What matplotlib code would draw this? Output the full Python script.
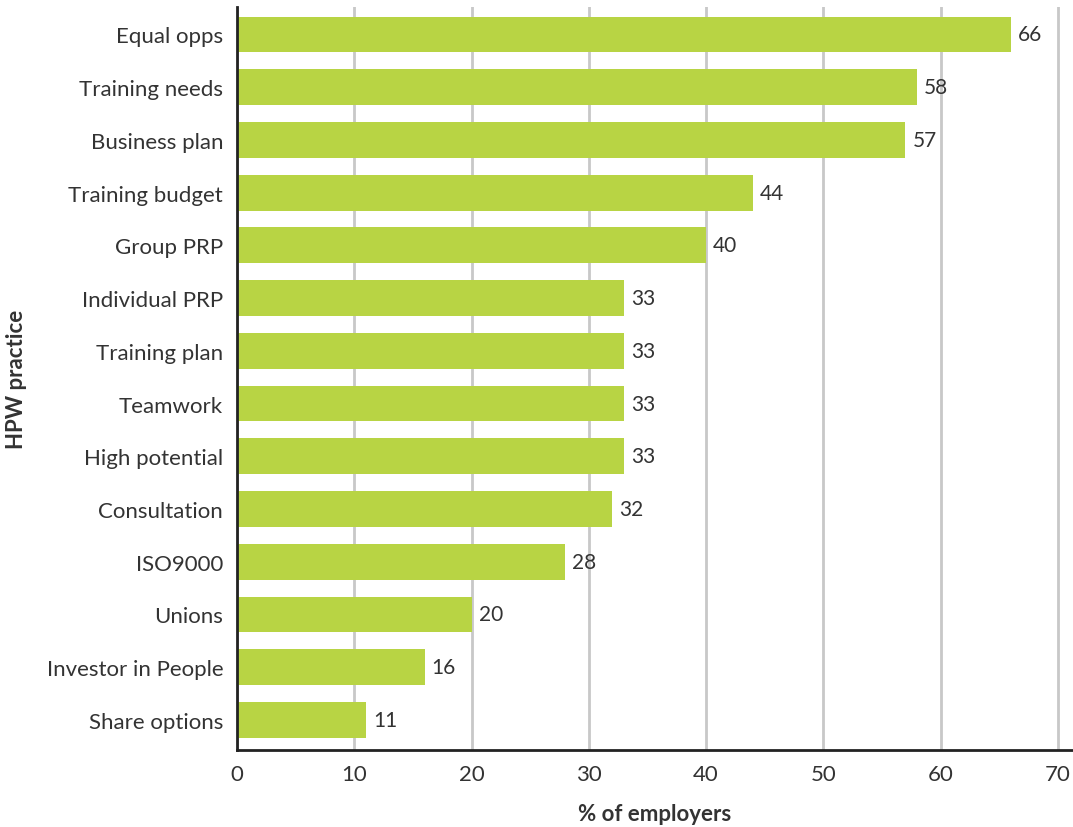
import matplotlib.pyplot as plt

# HPW practices, top to bottom
practices = ['Equal opps', 'Training needs', 'Business plan', 'Training budget',
             'Group PRP', 'Individual PRP', 'Training plan', 'Teamwork',
             'High potential', 'Consultation', 'ISO9000', 'Unions',
             'Investor in People', 'Share options']
employers_pct = [66, 58, 57, 44, 40, 33, 33, 33, 33, 32, 28, 20, 16, 11]
x_ticks = [0, 10, 20, 30, 40, 50, 60, 70]

plt.rcParams['font.family'] = ['Lato', 'DejaVu Sans']
text_col = '#333333'

fig = plt.figure(figsize=(10.73, 8.28), dpi=100)
ax = fig.add_axes([0.2209, 0.093, 0.7791, 0.8973])

pos = list(range(len(practices)))
ax.barh(pos, employers_pct, height=0.68, color='#b8d444', zorder=2)

for p, v in zip(pos, employers_pct):
    ax.text(v + 0.6, p, str(v), va='center', ha='left', fontsize=15, color=text_col)

ax.set_ylim(len(practices) - 0.43, -0.52)
ax.set_xlim(0, 71.3)
ax.set_yticks(pos)
ax.set_yticklabels(practices, fontsize=16, color=text_col)
ax.set_xticks(x_ticks)
ax.set_xticklabels([str(t) for t in x_ticks], fontsize=16, color=text_col)
ax.tick_params(length=0, pad=10)
ax.tick_params(axis='y', pad=10)

ax.grid(axis='x', color='#c8c8c8', linewidth=2, zorder=0)
ax.set_axisbelow(True)
for s in ['top', 'right']:
    ax.spines[s].set_visible(False)
for s in ['left', 'bottom']:
    ax.spines[s].set_color('#222222')
    ax.spines[s].set_linewidth(2)

ax.set_xlabel('% of employers', fontsize=16, fontweight='bold', color=text_col, labelpad=14)
ax.set_ylabel('HPW practice', fontsize=16, fontweight='bold', color=text_col, labelpad=14)

fig.savefig('out.png', dpi=100)
